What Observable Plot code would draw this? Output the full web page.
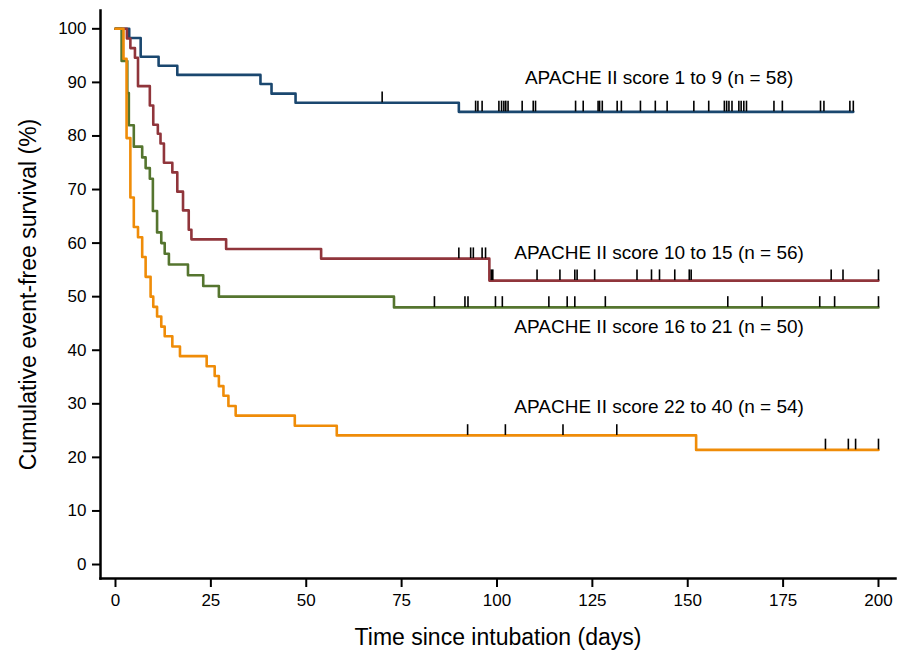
<!DOCTYPE html>
<html><head><meta charset="utf-8">
<script src="https://cdn.jsdelivr.net/npm/d3@7"></script>
<script src="https://cdn.jsdelivr.net/npm/@observablehq/plot@0.6"></script>
<style>body{margin:0;background:#fff;}</style>
</head><body><div id="chart"></div>
<script>
const groupNames = [
  "APACHE II score 1 to 9 (n = 58)",
  "APACHE II score 10 to 15 (n = 56)",
  "APACHE II score 16 to 21 (n = 50)",
  "APACHE II score 22 to 40 (n = 54)"
];
const groupColors = ["#1a476f", "#90353b", "#55752f", "#ef8c08"];

// step times (days) and survival (%) after each step
const blueTimes = [0, 3.6, 6.6, 11.3, 16.2, 38.0, 40.9, 47.2, 90.0];
const blueSurv  = [100, 98.3, 94.8, 93.1, 91.4, 89.7, 87.9, 86.2, 84.5];
const blueEnd = 193.4;
const blueCensor = [69.9, 94.4, 95.0, 96.1, 100.5, 101.2, 101.8, 102.3, 102.9, 106.6, 109.5, 110.1,
  120.6, 122.6, 126.5, 126.9, 127.6, 131.5, 132.6, 137.6, 141.5, 144.6, 151.6, 155.5, 159.6, 160.2,
  160.8, 161.6, 163.4, 164.0, 164.7, 165.4, 172.6, 174.8, 184.8, 185.7, 192.5, 193.4];

const redTimes = [0, 3.0, 3.9, 5.1, 5.9, 9.0, 9.9, 11.1, 11.8, 12.7, 14.9, 16.2, 17.7, 19.2, 19.9, 29.0, 53.9, 98.0];
const redSurv  = [100, 98.2, 96.4, 94.6, 89.3, 85.7, 82.1, 80.4, 78.6, 75.0, 73.2, 69.6, 66.1, 62.5, 60.7, 58.9, 57.1, 53.0];
const redEnd = 200;
const redCensor = [90.0, 93.1, 93.8, 96.1, 97.0, 98.5, 98.9, 110.5, 116.5, 120.4, 121.0, 125.6,
  136.7, 140.5, 142.6, 146.6, 150.4, 150.9, 187.6, 190.7, 200];

const greenTimes = [0, 1.6, 3.1, 3.5, 4.8, 7.0, 7.9, 9.0, 9.8, 10.9, 12.0, 12.9, 14.0, 19.0, 23.0, 27.1, 73.0];
const greenSurv  = [100, 94, 88, 82, 78, 76, 74, 72, 66, 62, 60, 58, 56, 54, 52, 50, 48];
const greenEnd = 200;
const greenCensor = [83.6, 91.6, 92.4, 99.6, 101.4, 113.6, 118.4, 120.4, 128.4, 160.5, 169.5, 184.6, 188.5, 200];

const orangeTimes = [0, 2.1, 2.9, 3.9, 4.8, 5.9, 7.0, 7.9, 9.2, 9.9, 10.9, 12.0, 12.9, 14.9, 16.9, 23.9,
  26.0, 27.1, 28.3, 29.6, 31.5, 47.0, 58.0, 152.2];
const orangeSurv  = [100, 94.4, 79.6, 68.5, 63.0, 61.1, 57.4, 53.7, 50.0, 48.1, 46.3, 44.4, 42.6, 40.7, 38.9, 37.0,
  35.2, 33.3, 31.5, 29.6, 27.8, 25.9, 24.1, 21.4];
const orangeEnd = 200;
const orangeCensor = [92.3, 102.2, 117.3, 131.4, 186.1, 192.1, 194.0, 200];

// group label anchors (days, %)
const labelDay = [142.5, 142.5, 142.5, 142.5];
const labelSurv = [90.9, 58.2, 44.4, 29.5];

const xTicks = [0, 25, 50, 75, 100, 125, 150, 175, 200];
const yTicks = [0, 10, 20, 30, 40, 50, 60, 70, 80, 90, 100];
const xTitle = "Time since intubation (days)";
const yTitle = "Cumulative event-free survival (%)";

const series = [
  {times: blueTimes, surv: blueSurv, end: blueEnd, censor: blueCensor},
  {times: redTimes, surv: redSurv, end: redEnd, censor: redCensor},
  {times: greenTimes, surv: greenSurv, end: greenEnd, censor: greenCensor},
  {times: orangeTimes, surv: orangeSurv, end: orangeEnd, censor: orangeCensor}
];

function levelAt(s, t) {
  let v = s.surv[0];
  for (let i = 0; i < s.times.length; i++) if (s.times[i] <= t) v = s.surv[i];
  return v;
}

const lineMarks = [];
const censorRows = [];
series.forEach((s, gi) => {
  const pts = s.times.map((t, i) => ({t, v: s.surv[i]}));
  pts.push({t: s.end, v: s.surv[s.surv.length - 1]});
  lineMarks.push(Plot.line(pts, {x: "t", y: "v", curve: "step-after", stroke: groupColors[gi], strokeWidth: 2.6}));
  s.censor.forEach(t => censorRows.push({t, v: levelAt(s, t)}));
});

const labelRows = groupNames.map((name, i) => ({name, x: labelDay[i], y: labelSurv[i]}));

const chart = Plot.plot({
  width: 897, height: 653,
  marginLeft: 100, marginRight: 2, marginTop: 10, marginBottom: 75,
  x: {domain: [-3.93, 204.46]},
  y: {domain: [-2.61, 103.42]},
  style: {fontFamily: "'Liberation Sans', Arial, sans-serif", fontSize: "17px", color: "#000", background: "#fff"},
  marks: [
    Plot.frame({anchor: "left", strokeWidth: 2.5, stroke: "#000"}),
    Plot.frame({anchor: "bottom", strokeWidth: 2.5, stroke: "#000"}),
    Plot.axisX({ticks: xTicks, tickSize: 9, tickPadding: 6, label: null, strokeWidth: 2, tickFormat: d => String(d)}),
    Plot.axisY({ticks: yTicks, tickSize: 8, tickPadding: 6, label: null, strokeWidth: 2, tickFormat: d => String(d)}),
    ...lineMarks,
    Plot.ruleX(censorRows, {x: "t", y1: "v", y2: d => d.v + 2, stroke: "#000", strokeWidth: 1.6}),
    Plot.text(labelRows, {x: "x", y: "y", text: "name", fontSize: 19, fill: "#000"}),
    Plot.text([xTitle], {frameAnchor: "bottom", dy: 59, text: d => d, fontSize: 23, fill: "#000", textAnchor: "middle", lineAnchor: "middle"}),
    Plot.text([yTitle], {frameAnchor: "left", dx: -72, rotate: -90, text: d => d, fontSize: 23, fill: "#000", textAnchor: "middle", lineAnchor: "middle"})
  ]
});
document.getElementById("chart").appendChild(chart);
</script>
</body></html>
